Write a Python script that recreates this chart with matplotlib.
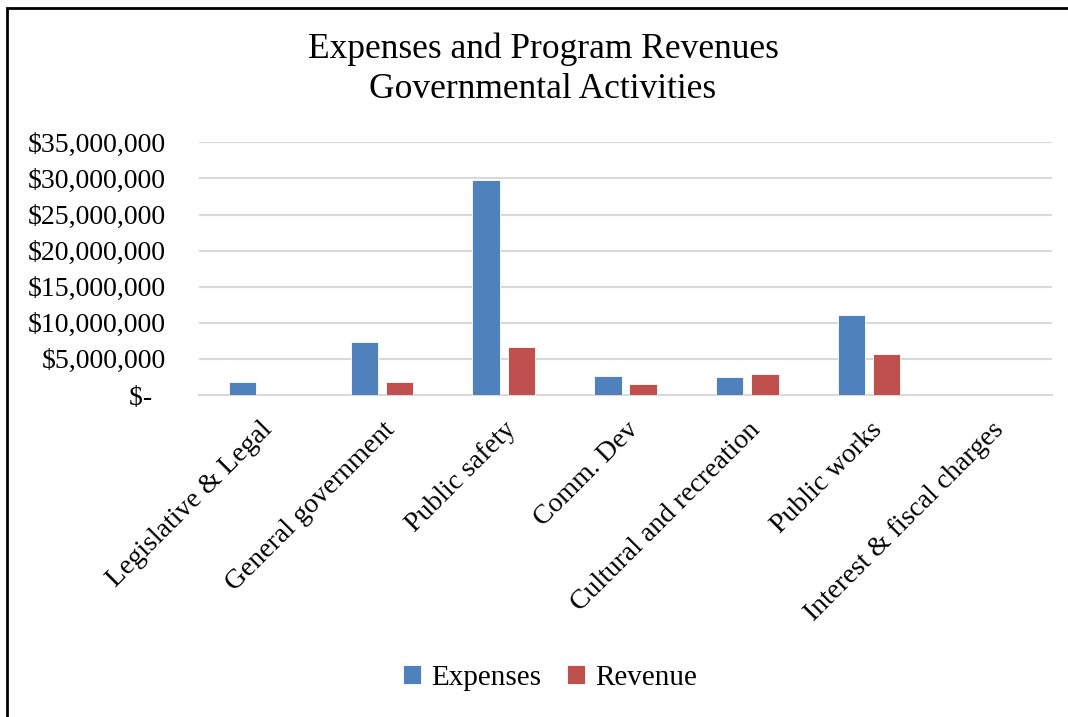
import matplotlib
matplotlib.use("Agg")
import matplotlib.pyplot as plt
from matplotlib.ticker import FuncFormatter
from matplotlib.patches import Rectangle
import numpy as np

categories = ["Legislative & Legal", "General government", "Public safety", "Comm. Dev",
              "Cultural and recreation", "Public works", "Interest & fiscal charges"]
expenses = [1850000, 7330000, 29780000, 2670000, 2490000, 11040000, 60000]
revenue = [0, 1760000, 6690000, 1520000, 2910000, 5630000, 0]
yticks = [0, 5000000, 10000000, 15000000, 20000000, 25000000, 30000000, 35000000]

plt.rcParams['font.family'] = ['Liberation Serif', 'DejaVu Serif']

fig = plt.figure(figsize=(10.68, 7.17), dpi=100)
W, H = 1068, 717
ax = fig.add_axes([199 / W, 1 - 395 / H, (1052 - 199) / W, (395 - 142.3) / H])

x = np.arange(len(categories))
bw = 0.224
off = 0.144
ax.bar(x - off, expenses, bw, color="#4F81BD", edgecolor="white", linewidth=0.6, label="Expenses", zorder=3)
ax.bar(x + off, revenue, bw, color="#C0504D", edgecolor="white", linewidth=0.6, label="Revenue", zorder=3)

ax.set_xlim(-0.5, len(categories) - 0.5)
ax.set_ylim(0, 35000000)
ax.set_yticks(yticks)

def fmt(v, pos):
    if v == 0:
        return "$-  "
    return "${:,.0f}".format(v)

ax.yaxis.set_major_formatter(FuncFormatter(fmt))
ax.grid(axis="y", color="#d9d9d9", linewidth=1.5, zorder=0)
for s in ["top", "right", "left"]:
    ax.spines[s].set_visible(False)
ax.spines["bottom"].set_color("#d9d9d9")
ax.spines["bottom"].set_linewidth(1.5)
ax.tick_params(axis="both", length=0, labelsize=20, colors="black")
ax.tick_params(axis="y", pad=24)
ax.set_xticks(x)
ax.set_xticklabels(categories, rotation=45, ha="right", rotation_mode="anchor")
ax.tick_params(axis="x", pad=16)

fig.text(543 / W, 1 - 49 / H, "Expenses and Program Revenues", ha="center", va="center", fontsize=25.5)
fig.text(543 / W, 1 - 89 / H, "Governmental Activities", ha="center", va="center", fontsize=25.5)

leg = fig.legend(loc="center", bbox_to_anchor=(550 / W, 1 - 678 / H), ncol=2, frameon=False,
                 fontsize=21, handlelength=0.6, handleheight=0.6, handletextpad=0.35,
                 columnspacing=0.9)

fig.patches.append(Rectangle((7 / W, -0.1), 1.2, 1 - 8 / H + 0.1, transform=fig.transFigure,
                             fill=False, edgecolor="black", linewidth=2))

fig.savefig("out.png", dpi=100, facecolor="white")
